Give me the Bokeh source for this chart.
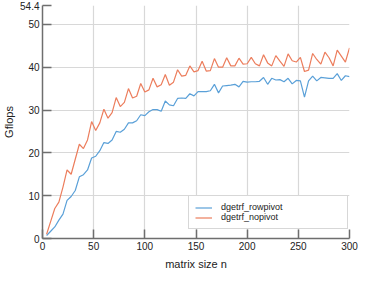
from bokeh.plotting import figure
from bokeh.models import Range1d, FixedTicker, Legend, LegendItem
from bokeh.embed import file_html
from bokeh.resources import INLINE

n = list(range(4, 301, 4))
rowpivot = [0.7, 1.7, 2.7, 4.3, 5.7, 8.9, 9.8, 11.2, 14.4, 14.9, 16.0, 18.8, 19.2, 20.5, 22.4,
            22.2, 23.0, 25.0, 24.8, 25.5, 27.0, 27.0, 27.5, 28.9, 28.7, 29.6, 30.1, 30.1, 29.7,
            32.1, 31.2, 31.0, 32.7, 32.8, 32.7, 33.8, 33.3, 34.3, 34.3, 34.3, 34.5, 36.0, 34.0,
            35.6, 35.7, 35.8, 36.0, 35.4, 36.7, 36.5, 36.6, 36.6, 36.7, 37.6, 36.0, 37.4, 37.0,
            37.1, 36.6, 37.4, 36.1, 36.9, 36.8, 33.0, 36.8, 37.9, 36.8, 37.6, 37.5, 37.4, 37.4,
            38.5, 36.9, 38.0, 37.8]
nopivot = [1.0, 4.0, 7.0, 8.5, 12.0, 16.0, 15.0, 18.5, 22.0, 21.0, 23.0, 27.3, 25.2, 27.0, 30.2,
           28.1, 29.4, 32.9, 30.8, 31.8, 35.0, 32.8, 33.2, 36.2, 34.2, 34.7, 37.4, 35.4, 35.9,
           38.3, 35.8, 36.5, 39.4, 37.9, 38.1, 40.3, 38.9, 39.2, 41.4, 39.1, 39.2, 42.0, 40.0,
           40.0, 42.2, 40.3, 40.3, 42.1, 40.7, 40.8, 42.3, 40.8, 40.3, 42.9, 41.0, 40.3, 42.7,
           41.4, 40.2, 43.1, 41.5, 41.2, 42.3, 39.0, 39.3, 43.2, 41.8, 40.7, 43.5, 42.2, 40.3,
           44.0, 42.6, 41.2, 44.5]
x_ticks = [0, 50, 100, 150, 200, 250, 300]
y_ticks = [0, 10, 20, 30, 40, 50, 54.4]
y_tick_labels = {0: "0", 10: "10", 20: "20", 30: "30", 40: "40", 50: "50", 54.4: "54.4"}
series_names = ["dgetrf_rowpivot", "dgetrf_nopivot"]

FONT = "Liberation Sans"
AX = "#6e6e6e"

p = figure(width=358, height=272, output_backend="svg", toolbar_location=None,
           x_range=Range1d(0, 300), y_range=Range1d(0, 54.4),
           min_border_left=30, min_border_right=9, min_border_top=5, min_border_bottom=30)
p.outline_line_color = None
p.background_fill_color = "white"

r1 = p.line(n, rowpivot, line_color="#5aa0d8", line_width=1.2)
r2 = p.line(n, nopivot, line_color="#ec7d5c", line_width=1.2)

p.xaxis.ticker = FixedTicker(ticks=x_ticks)
p.yaxis.ticker = FixedTicker(ticks=y_ticks)
p.yaxis.major_label_overrides = y_tick_labels
p.xgrid.ticker = FixedTicker(ticks=x_ticks[1:])
p.ygrid.ticker = FixedTicker(ticks=y_ticks[1:6])
p.grid.grid_line_color = "#d8d8d8"
p.grid.grid_line_width = 1.2

for ax in (p.xaxis[0], p.yaxis[0]):
    ax.axis_line_color = AX
    ax.axis_line_width = 1.5
    ax.major_tick_line_color = AX
    ax.major_tick_line_width = 1.5
    ax.major_tick_in = 9
    ax.major_tick_out = 0
    ax.minor_tick_line_color = None
    ax.major_label_text_font = FONT
    ax.major_label_text_font_size = "10px"
    ax.major_label_text_color = "#222222"
    ax.major_label_standoff = 3
    ax.axis_label_text_font = FONT
    ax.axis_label_text_font_size = "11px"
    ax.axis_label_text_font_style = "normal"
    ax.axis_label_text_color = "#222222"

p.xaxis.axis_label = "matrix size n"
p.xaxis.axis_label_standoff = 5
p.yaxis.axis_label = "Gflops"
p.yaxis.axis_label_standoff = 2

legend = Legend(items=[LegendItem(label=series_names[0], renderers=[r1]),
                       LegendItem(label=series_names[1], renderers=[r2])],
                location=(146, 9))
legend.label_text_font = FONT
legend.label_text_font_size = "9px"
legend.label_text_color = "#222222"
legend.label_height = 9
legend.glyph_height = 9
legend.glyph_width = 17
legend.label_standoff = 9
legend.label_width = 120
legend.spacing = 0
legend.padding = 6
legend.margin = 0
legend.border_line_color = "#b0b0b0"
legend.border_line_width = 1
legend.background_fill_color = "white"
legend.background_fill_alpha = 1
p.add_layout(legend, "center")

open("out.html", "w").write(file_html(p, INLINE))
